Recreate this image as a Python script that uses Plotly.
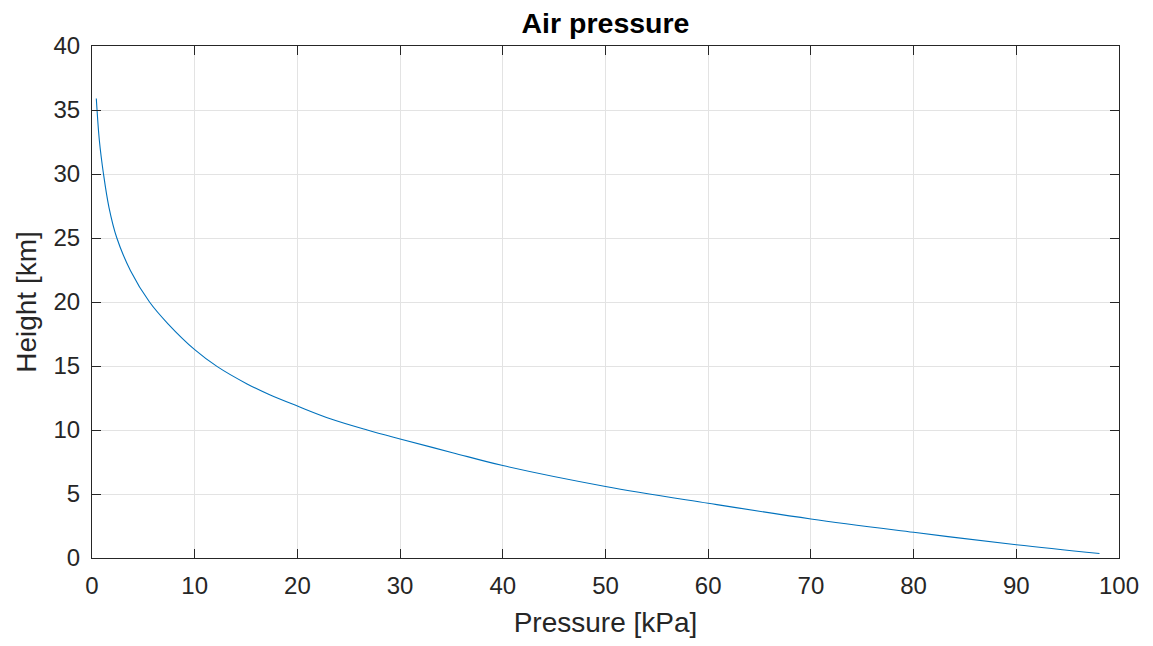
import plotly.graph_objects as go

# Values
pressure_kpa = [0.42, 0.72, 1.12, 1.65, 2.42, 3.75, 5.6, 7.4, 10.0, 12.2,
                15.1, 17.3, 20.0, 23.2, 26.8, 30.0, 35.1, 40.0, 50.0, 60.0, 70.0,
                80.0, 90.0, 98.1]
height_km = [35.9, 32.6, 30.0, 27.4, 25.0, 22.45, 20.0, 18.3, 16.28, 14.95,
             13.6, 12.75, 11.87, 10.88, 10.0, 9.3, 8.23, 7.22, 5.59, 4.28, 3.05,
             2.01, 1.03, 0.35]

x_ticks = [0, 10, 20, 30, 40, 50, 60, 70, 80, 90, 100]
y_ticks = [0, 5, 10, 15, 20, 25, 30, 35, 40]

TXT = "#262626"
FONT = "Liberation Sans, Arial, Helvetica, sans-serif"

fig = go.Figure()
fig.add_trace(go.Scatter(
    x=pressure_kpa, y=height_km, mode="lines",
    line=dict(color="#0072BD", width=1.1, shape="spline", smoothing=1.0),
    showlegend=False, hoverinfo="x+y",
))

axis_common = dict(
    showline=True, linecolor=TXT, linewidth=1, mirror="ticks",
    ticks="inside", ticklen=9, tickwidth=1, tickcolor=TXT,
    showgrid=True, gridcolor="#e3e3e3", gridwidth=1,
    zeroline=False, tickfont=dict(family=FONT, size=24, color=TXT),
)

fig.update_layout(
    width=1153, height=646,
    margin=dict(l=92, r=34, t=46, b=88),
    paper_bgcolor="white", plot_bgcolor="white",
    font=dict(family=FONT, color=TXT),
    title=dict(text="<b>Air pressure</b>", x=0.5, xref="paper", xanchor="center",
               y=1 - 23 / 646, yanchor="middle",
               font=dict(family=FONT, size=28.5, color="black")),
    xaxis=dict(range=[0, 100], tickvals=x_ticks, ticktext=[str(v) for v in x_ticks],
               title=dict(text="Pressure [kPa]", font=dict(family=FONT, size=28, color=TXT), standoff=14),
               ticklabelstandoff=6, **axis_common),
    yaxis=dict(range=[0, 40], tickvals=y_ticks, ticktext=[str(v) for v in y_ticks],
               title=dict(text="Height [km]", font=dict(family=FONT, size=28, color=TXT), standoff=8),
               ticklabelstandoff=6, **axis_common),
)

fig.write_html("out.html")
